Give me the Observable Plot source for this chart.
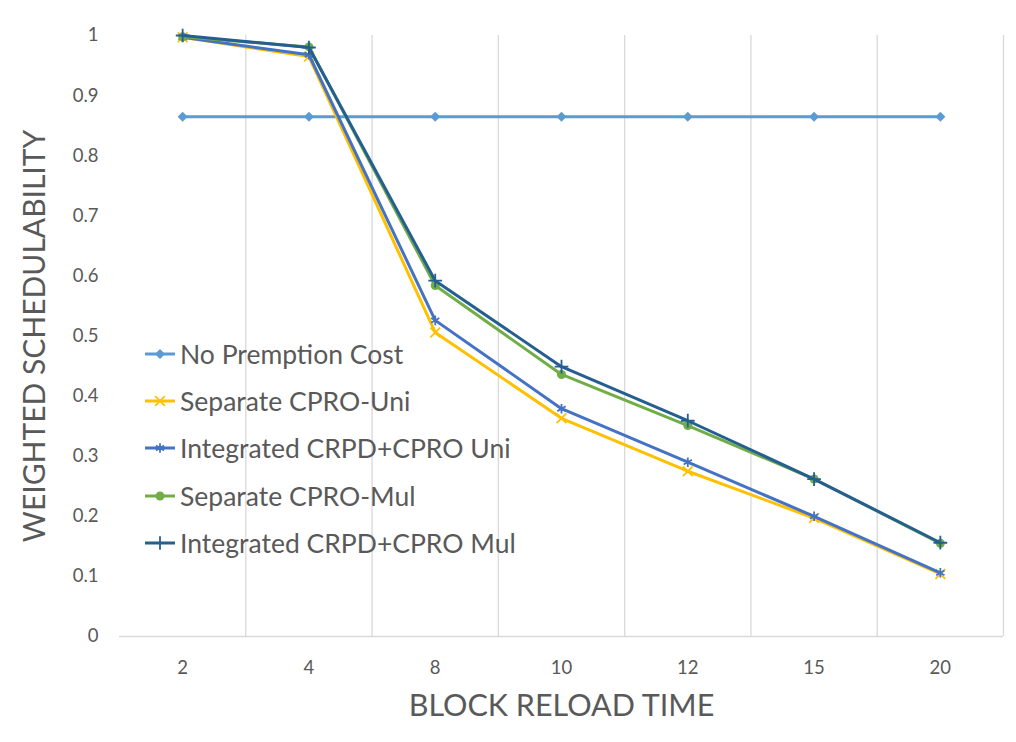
<!DOCTYPE html>
<html>
<head>
<meta charset="utf-8">
<script src="https://cdn.jsdelivr.net/npm/d3@7"></script>
<script src="https://cdn.jsdelivr.net/npm/@observablehq/plot@0.6"></script>
<style>
  html, body { margin: 0; padding: 0; background: #fff; }
  #wrap { position: relative; width: 1016px; height: 742px; }
  #legend { position: absolute; left: 0; top: 0; }
  .item { position: absolute; display: flex; align-items: center; font-family: Lato, "Open Sans", sans-serif; font-size: 26.5px; color: #595959; white-space: nowrap; }
</style>
</head>
<body>
<div id="wrap"><div id="legend"></div></div>
<script>
const categories = ["2", "4", "8", "10", "12", "15", "20"];
const seriesNames = ["No Premption Cost", "Separate CPRO-Uni", "Integrated CRPD+CPRO Uni", "Separate CPRO-Mul", "Integrated CRPD+CPRO Mul"];
const noPremption = [0.865, 0.865, 0.865, 0.865, 0.865, 0.865, 0.865];
const separateUni = [0.997, 0.965, 0.506, 0.363, 0.275, 0.197, 0.104];
const integratedUni = [0.997, 0.968, 0.526, 0.379, 0.290, 0.200, 0.106];
const separateMul = [0.998, 0.981, 0.584, 0.436, 0.351, 0.262, 0.155];
const integratedMul = [1.0, 0.980, 0.592, 0.449, 0.359, 0.262, 0.156];
const yTicks = [0, 0.1, 0.2, 0.3, 0.4, 0.5, 0.6, 0.7, 0.8, 0.9, 1];

const seriesValues = [noPremption, separateUni, integratedUni, separateMul, integratedMul];
const colors = ["#5B9BD5", "#FFC000", "#4472C4", "#70AD47", "#255E91"];
const symbols = ["diamond2", "times", "asterisk", "circle", "plus"];
const filled = [true, false, false, true, false];

const rows = seriesNames.flatMap((s, i) => seriesValues[i].map((v, j) => ({series: s, idx: j, value: v})));
const font = 'Lato, "Open Sans", sans-serif';

const marks = [
  Plot.ruleX(d3.range(categories.length).map(i => i + 0.5), {stroke: "#D9D9D9", strokeWidth: 1.3}),
  Plot.ruleY([0], {stroke: "#D9D9D9", strokeWidth: 1.5}),
  Plot.axisY({ticks: yTicks, tickSize: 0, tickPadding: 21, tickFormat: d => String(+d.toFixed(1)), fontSize: 18.5, label: null, fill: "#595959"}),
  Plot.axisX({ticks: d3.range(categories.length), tickSize: 0, tickPadding: 24, tickFormat: i => categories[i], fontSize: 18.5, label: null, fill: "#595959"}),
  Plot.text(["WEIGHTED SCHEDULABILITY"], {frameAnchor: "left", textAnchor: "middle", rotate: -90, dx: -84, fontSize: 30, fill: "#595959", fontFamily: font}),
  Plot.text(["BLOCK RELOAD TIME"], {frameAnchor: "bottom", dy: 79, fontSize: 30.5, fill: "#595959", fontFamily: font})
];
seriesNames.forEach((s, i) => {
  const data = rows.filter(d => d.series === s);
  marks.push(Plot.line(data, {x: "idx", y: "value", stroke: colors[i], strokeWidth: 3, strokeLinejoin: "round"}));
  marks.push(Plot.dot(data, {x: "idx", y: "value", symbol: symbols[i], r: 4.5,
    fill: filled[i] ? colors[i] : "none", stroke: colors[i], strokeWidth: filled[i] ? 0 : 1.8}));
});

const chart = Plot.plot({
  width: 1016,
  height: 742,
  marginLeft: 119,
  marginRight: 13,
  marginTop: 35,
  marginBottom: 106,
  style: {fontFamily: font, background: "#fff"},
  x: {type: "linear", domain: [-0.5, categories.length - 0.5], axis: null},
  y: {domain: [0, 1], axis: null},
  marks
});
document.getElementById("wrap").prepend(chart);

// legend
const legend = d3.select("#legend");
const symMap = {diamond2: d3.symbolDiamond2, times: d3.symbolTimes, asterisk: d3.symbolAsterisk, circle: d3.symbolCircle, plus: d3.symbolPlus};
seriesNames.forEach((s, i) => {
  const item = legend.append("div").attr("class", "item")
    .style("left", "145px").style("top", (339 + i * 47.2) + "px").style("height", "30px");
  const svg = item.append("svg").attr("width", 32).attr("height", 30).style("margin-right", "3px");
  svg.append("line").attr("x1", 0).attr("x2", 30).attr("y1", 15).attr("y2", 15)
    .attr("stroke", colors[i]).attr("stroke-width", 3);
  svg.append("path").attr("transform", "translate(15,15)")
    .attr("d", d3.symbol(symMap[symbols[i]], Math.PI * 4.5 * 4.5)())
    .attr("fill", filled[i] ? colors[i] : "none")
    .attr("stroke", filled[i] ? "none" : colors[i]).attr("stroke-width", 1.8);
  item.append("span").text(s);
});
</script>
</body>
</html>
